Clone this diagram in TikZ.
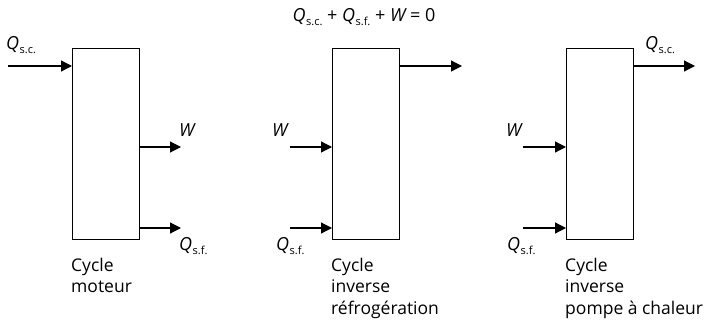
\documentclass[tikz,border=0pt]{standalone}
\usepackage{fontspec}
\setmainfont{Open Sans}
\usetikzlibrary{arrows.meta}
\newcommand{\Qsub}[1]{{\itshape Q}\kern0.5pt\raisebox{-4pt}{\fontsize{11}{11}\selectfont #1}}
\begin{document}
\begin{tikzpicture}[x=1pt,y=-1pt,
  cyclebox/.style={draw,line width=1pt,minimum width=67pt,minimum height=191pt,inner sep=0pt,anchor=north west},
  arr/.style={line width=1.2pt,-{Triangle[length=11pt,width=11pt]}},
  lbl/.style={inner sep=0pt,anchor=base west,font=\fontsize{18}{18}\selectfont},
  captxt/.style={inner sep=0pt,anchor=north west,align=left,font=\fontsize{17.5}{21.5}\selectfont}]
\useasboundingbox (0,0) rectangle (711,323);
% box 1
\node[cyclebox] (b1) at (72,48) {};
\coordinate (i1) at (8,66);
\coordinate (w1) at (181,147);
\coordinate (f1) at (181,228);
\draw[arr] (i1) -- (b1.west |- i1);
\draw[arr] (b1.east |- w1) -- (w1);
\draw[arr] (b1.east |- f1) -- (f1);
\node[lbl] (lq1) at (6,50) {\Qsub{s.c.}};
\node[lbl] (lw1) at (179,137) {\itshape W};
\node[lbl] (lf1) at (179,250) {\Qsub{s.f.}};
\node[captxt] (c1) at (71,258) {Cycle\\moteur};
% box 2
\node[cyclebox] (b2) at (332,48) {};
\coordinate (o2) at (462,66);
\coordinate (w2) at (290,147);
\coordinate (f2) at (290,228);
\draw[arr] (b2.east |- o2) -- (o2);
\draw[arr] (w2) -- (b2.west |- w2);
\draw[arr] (f2) -- (b2.west |- f2);
\node[lbl] (lw2) at (272,137) {\itshape W};
\node[lbl] (lf2) at (276,250) {\Qsub{s.f.}};
\node[captxt] (c2) at (331,258) {Cycle\\inverse\\réfrogération};
\node[lbl,anchor=base] (eq) at (364,22) {\Qsub{s.c.} + \Qsub{s.f.} + {\itshape W} = 0};
% box 3
\node[cyclebox] (b3) at (566,48) {};
\coordinate (o3) at (695,66);
\coordinate (w3) at (523,147);
\coordinate (f3) at (523,228);
\draw[arr] (b3.east |- o3) -- (o3);
\draw[arr] (w3) -- (b3.west |- w3);
\draw[arr] (f3) -- (b3.west |- f3);
\node[lbl] (lq3) at (645,50) {\Qsub{s.c.}};
\node[lbl] (lw3) at (506,137) {\itshape W};
\node[lbl] (lf3) at (507,250) {\Qsub{s.f.}};
\node[captxt] (c3) at (565,258) {Cycle\\inverse\\pompe à chaleur};
\end{tikzpicture}
\end{document}
